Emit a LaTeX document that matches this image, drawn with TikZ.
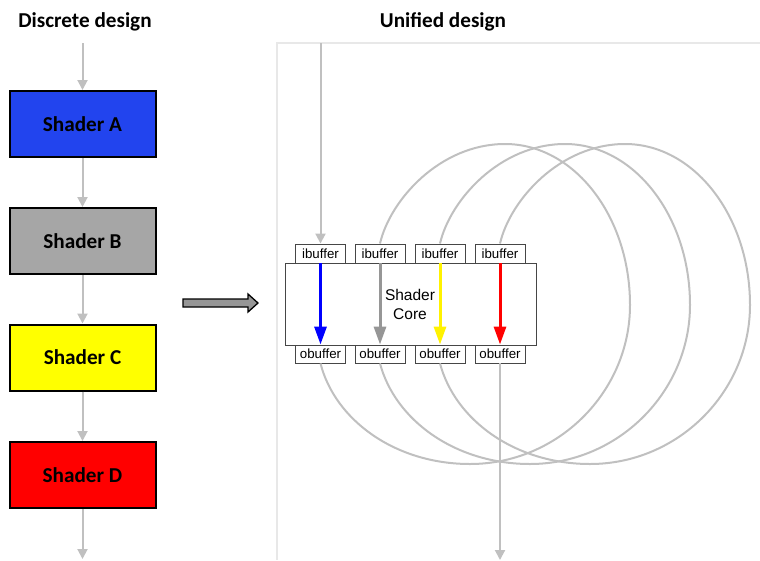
\documentclass[tikz,border=0pt]{standalone}
\usepackage{fontspec}
\setmainfont{Carlito}
\newfontfamily\arialf{Liberation Sans}
\usetikzlibrary{arrows.meta}
\definecolor{conn}{RGB}{192,192,192}
\definecolor{frame}{RGB}{232,232,232}
\definecolor{shA}{RGB}{34,68,238}
\definecolor{shB}{RGB}{166,166,166}
\definecolor{shC}{RGB}{255,255,0}
\definecolor{shD}{RGB}{255,0,0}
\definecolor{bufline}{RGB}{70,70,70}
\definecolor{fatarrow}{RGB}{150,150,150}
\tikzset{
  title/.style={font=\bfseries\fontsize{21.2}{25}\selectfont, inner sep=0pt},
  shaderbox/.style={draw=black, line width=2pt, minimum width=146pt, minimum height=66pt, inner sep=0pt, font=\bfseries\fontsize{21.2}{25}\selectfont},
  conn/.style={draw=conn, line width=2pt, -{Triangle[length=10pt,width=10pt]}},
  loopline/.style={draw=conn, line width=2pt},
  buf/.style={draw=bufline, line width=0.9pt, fill=white, minimum width=50pt, minimum height=19pt, inner sep=0pt, font=\arialf\fontsize{13.3}{15}\selectfont},
  core/.style={draw=bufline, line width=0.9pt, fill=white, minimum width=251pt, minimum height=82pt, inner sep=0pt},
  inner/.style={line width=3pt, -{Triangle[length=18pt,width=12pt]}},
}
\begin{document}
\begin{tikzpicture}[x=1pt,y=-1pt]
\useasboundingbox (0,0) rectangle (760,560);
% titles
\node[title] (t1) at (85,21.5) {Discrete design};
\node[title] (t2) at (443,21.5) {Unified design};
% frame of the right panel
\draw[frame, line width=1.5pt] (277,560) -- (277,43) -- (760,43);
% left column
\coordinate (ltop) at (82.5,43);
\coordinate (lbot) at (82.5,559);
\node[shaderbox, fill=shA] (A) at (82.5,124) {Shader A};
\node[shaderbox, fill=shB] (B) at (82.5,241) {Shader B};
\node[shaderbox, fill=shC] (C) at (82.5,357.5) {Shader C};
\node[shaderbox, fill=shD] (D) at (82.5,475) {Shader D};
\draw[conn] (ltop) -- (A.north);
\draw[conn] (A.south) -- (B.north);
\draw[conn] (B.south) -- (C.north);
\draw[conn] (C.south) -- (D.north);
\draw[conn] (D.south) -- (lbot);
% big arrow
\draw[draw=black, line width=1.3pt, fill=fatarrow, line join=miter]
  (183,299) -- (248,299) -- (248,294) -- (258,303) -- (248,312) -- (248,307) -- (183,307) -- cycle;
% unified core
\node[core] (core) at (410.5,304) {};
\node[font=\arialf\fontsize{15.5}{19}\selectfont, align=center, inner sep=0pt] (coretext) at (410,304) {Shader\\Core};
\foreach \n/\x in {1/320.5,2/380,3/440,4/500}{
  \node[buf] (i\n) at (\x,253.5) {ibuffer};
  \node[buf, minimum height=18pt] (o\n) at (\x,354) {obuffer};
}
\draw[inner, blue] (i1.south) -- (o1.north);
\draw[inner, fatarrow] (i2.south) -- (o2.north);
\draw[inner, yellow] (i3.south) -- (o3.north);
\draw[inner, red] (i4.south) -- (o4.north);
% input and output
\coordinate (rin) at (320.5,43);
\coordinate (rout) at (500,560);
\draw[conn] (rin) -- (i1.north);
\draw[conn] (o4.south) -- (rout);
% loops
\foreach \a/\b/\d in {1/2/0,2/3/60,3/4/120}{
  \draw[loopline] (o\a.south) .. controls ({335+\d},420) and ({395+\d},464) .. ({470+\d},464)
     .. controls ({558+\d},464) and ({630+\d},392) .. ({630+\d},305)
     .. controls ({630+\d},216) and ({574+\d},144) .. ({505+\d},144)
     .. controls ({440+\d},144) and ({390+\d},200) .. (i\b.north);
}
\end{tikzpicture}
\end{document}
